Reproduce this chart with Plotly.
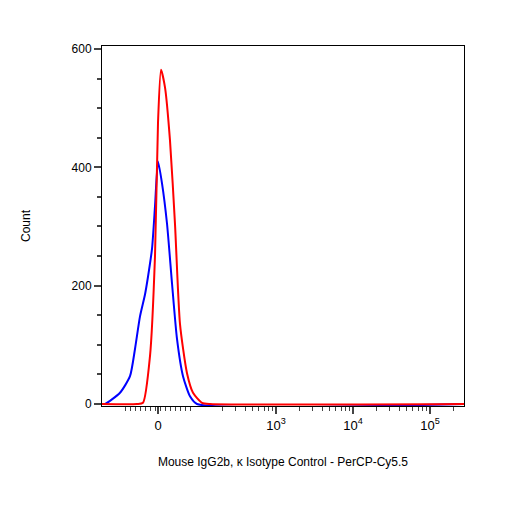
import plotly.graph_objects as go
import numpy as np

# x values in display (biexponential channel) units
red_x = [102, 137, 143, 150, 155, 158, 161, 165, 170, 175, 180, 187, 193, 202, 210, 464]
red_y = [0, 0, 2, 81, 250, 475, 565, 535, 445, 304, 135, 52, 19, 2, 0, 0]
blue_x = [102, 105, 120, 130, 135, 140, 145, 148, 152, 155, 158, 162, 167, 172, 177, 183, 190, 197, 464]
blue_y = [0, 0, 19, 47, 93, 148, 185, 215, 262, 334, 410, 373, 305, 204, 110, 47, 13, 0, 0]

major_pos = [158, 276, 353, 430]
major_lbl = ["0", "10<sup>3</sup>", "10<sup>4</sup>", "10<sup>5</sup>"]
decade = 77
minor_pos = list(np.arange(125, 192, 5))
for base in [199, 276, 353]:
    for k in range(2, 10):
        minor_pos.append(base + np.log10(k) * decade)
minor_pos += [453]

fig = go.Figure()
fig.add_trace(go.Scatter(x=blue_x, y=blue_y, mode="lines", line=dict(color="#0000ff", width=2, shape="spline", smoothing=0.6), showlegend=False))
fig.add_trace(go.Scatter(x=red_x, y=red_y, mode="lines", line=dict(color="#ff0000", width=2, shape="spline", smoothing=0.6), showlegend=False))
fig.add_trace(go.Scatter(x=[102], y=[0], xaxis="x2", mode="markers", marker=dict(opacity=0), showlegend=False, hoverinfo="skip"))

font = dict(family="Liberation Sans, Arial", size=12, color="black")
fig.update_layout(
    width=498, height=494, plot_bgcolor="white", paper_bgcolor="white",
    margin=dict(l=94, r=42, t=38, b=96), font=font,
    xaxis=dict(range=[102, 464], tickmode="array", tickvals=major_pos, ticktext=major_lbl,
               ticks="outside", ticklen=7, tickwidth=2, showgrid=False, zeroline=False, automargin=False,
               showline=True, linecolor="black", linewidth=1, mirror=True, tickfont=dict(size=13),
               title=dict(text="Mouse IgG2b, κ Isotype Control - PerCP-Cy5.5", standoff=26, font=dict(size=12))),
    xaxis2=dict(range=[102, 464], overlaying="x", side="bottom", tickmode="array", tickvals=minor_pos,
                ticktext=[""] * len(minor_pos), ticks="outside", ticklen=4, tickwidth=1, automargin=False,
                showgrid=False, zeroline=False, showline=False),
    yaxis=dict(range=[-3.4, 605], tickvals=[0, 200, 400, 600], ticks="outside", ticklen=7, tickwidth=2,
               minor=dict(dtick=50, ticklen=4, ticks="outside", showgrid=False), automargin=False,
               showgrid=False, zeroline=False, showline=True, linecolor="black", linewidth=1, mirror=True,
               title=dict(text="Count", standoff=38, font=dict(size=12))),
)
fig.write_html("out.html")
